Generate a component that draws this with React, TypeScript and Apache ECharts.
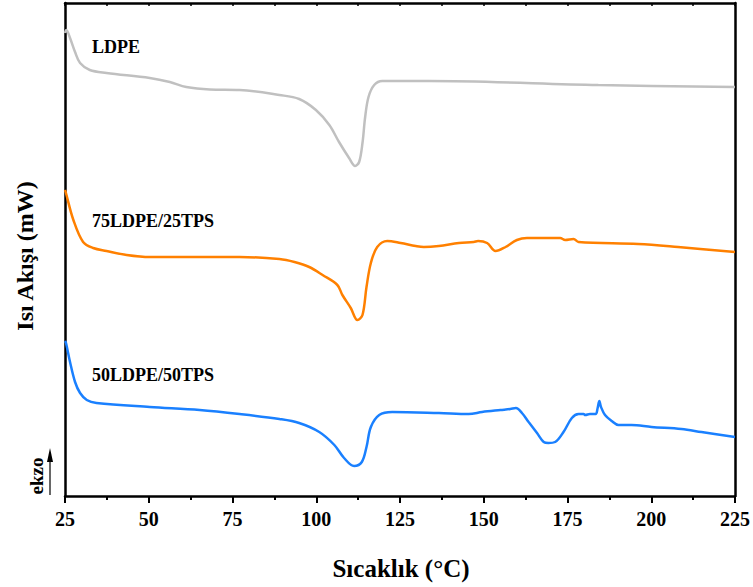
import React, { useEffect, useRef } from "react";
import * as echarts from "echarts";

// Temperature (°C) and heat flow (arbitrary mW offsets)
const ldpeT = [25.0, 25.4, 26.5, 28.0, 29.5, 32.4, 37.4, 50.3, 56.3, 61.2, 68.2, 77.1, 89.0, 94.9, 99.9, 103.9, 106.8, 109.8, 111.6, 112.8, 113.8, 114.6, 115.6, 117.3, 119.7, 133.6, 184.2, 225.0];
const ldpeY = [46.3, 46.6, 45.8, 44.4, 43.3, 42.6, 42.3, 41.8, 41.4, 40.9, 40.65, 40.6, 40.1, 39.7, 38.6, 37.1, 35.4, 33.8, 33.0, 33.4, 35.3, 37.9, 39.9, 41.1, 41.5, 41.5, 41.1, 40.9];

const b75T = [25.0, 25.2, 27.5, 30.4, 33.4, 37.4, 43.4, 50.3, 62.2, 77.1, 89.0, 93.5, 97.9, 101.9, 106.3, 107.8, 110.3, 112.3, 113.8, 115.0, 116.3, 118.2, 121.2, 125.2, 129.7, 132.1, 136.6, 142.6, 147.0, 148.3, 151.0, 153.5, 156.5, 159.9, 162.9, 172.8, 174.3, 176.8, 178.3, 196.1, 208.0, 225.0];
const b75Y = [30.6, 30.4, 27.6, 25.4, 24.8, 24.5, 24.1, 23.9, 23.9, 23.9, 23.7, 23.4, 22.9, 22.1, 21.1, 20.1, 18.8, 17.6, 18.1, 20.9, 23.3, 24.9, 25.5, 25.3, 25.0, 24.9, 25.0, 25.3, 25.4, 25.5, 25.3, 24.5, 24.9, 25.6, 25.8, 25.8, 25.6, 25.7, 25.4, 25.2, 24.9, 24.4];

const b50T = [25.0, 25.3, 26.5, 28.0, 29.5, 31.5, 34.4, 50.3, 65.2, 77.1, 89.0, 94.9, 100.9, 105.4, 108.3, 111.3, 113.6, 115.0, 116.3, 118.8, 122.7, 136.6, 145.5, 149.5, 155.0, 157.9, 159.6, 161.4, 163.4, 165.9, 167.9, 169.3, 171.3, 173.8, 176.3, 178.3, 179.8, 180.3, 181.7, 183.4, 184.0, 184.5, 185.0, 186.2, 188.2, 190.2, 194.1, 200.1, 209.0, 215.0, 225.0];
const b50Y = [15.5, 15.3, 13.4, 11.4, 10.3, 9.6, 9.3, 8.9, 8.6, 8.2, 7.7, 7.3, 6.4, 5.1, 3.8, 3.0, 3.4, 4.9, 6.9, 8.1, 8.4, 8.3, 8.2, 8.4, 8.6, 8.7, 8.8, 8.3, 7.4, 6.3, 5.4, 5.3, 5.4, 6.4, 7.8, 8.2, 8.2, 8.1, 8.2, 8.2, 8.8, 9.5, 8.9, 8.1, 7.5, 7.1, 7.1, 6.9, 6.7, 6.4, 5.9];

const seriesNames = ["LDPE", "75LDPE/25TPS", "50LDPE/50TPS"];
const xTicks = [25, 50, 75, 100, 125, 150, 175, 200, 225];

const FONT = '"Liberation Serif", "Times New Roman", serif';

const zip = (xs: number[], ys: number[]) => xs.map((x, i) => [x, ys[i]]);

export default function App() {
  const ref = useRef<HTMLDivElement>(null);
  useEffect(() => {
    document.body.style.margin = "0";
    const chart = echarts.init(ref.current!, null, { renderer: "svg" });
    const frame = { color: "#000", width: 2.5 };
    const line = (name: string, data: number[][], color: string) => ({
      name,
      type: "line",
      data,
      showSymbol: false,
      smooth: 0.35,
      lineStyle: { color, width: 2.5 },
      xAxisIndex: 0,
      yAxisIndex: 0,
    });
    chart.setOption({
      animation: false,
      grid: { left: 65, right: 16, top: 3, bottom: 91 },
      xAxis: [
        {
          type: "value",
          min: xTicks[0],
          max: xTicks[xTicks.length - 1],
          interval: 25,
          position: "bottom",
          axisLine: { show: true, onZero: false, lineStyle: frame },
          axisTick: { show: true, inside: false, length: 7, lineStyle: { width: 2, color: "#000" } },
          minorTick: { show: true, splitNumber: 2, length: 4, lineStyle: { width: 2, color: "#000" } },
          splitLine: { show: false },
          axisLabel: { margin: 13, color: "#000", fontFamily: FONT, fontWeight: "bold", fontSize: 20 },
        },
        {
          type: "value",
          min: 25,
          max: 225,
          interval: 12.5,
          position: "top",
          axisLine: { show: true, onZero: false, lineStyle: frame },
          axisTick: { show: true, inside: true, length: 3, lineStyle: { width: 1.5, color: "#000" } },
          splitLine: { show: false },
          axisLabel: { show: false },
        },
      ],
      yAxis: [
        {
          type: "value",
          min: 0,
          max: 49.3,
          position: "left",
          axisLine: { show: true, onZero: false, lineStyle: frame },
          axisTick: { show: false },
          splitLine: { show: false },
          axisLabel: { show: false },
        },
        {
          type: "value",
          min: 0,
          max: 49.3,
          position: "right",
          axisLine: { show: true, onZero: false, lineStyle: frame },
          axisTick: { show: false },
          splitLine: { show: false },
          axisLabel: { show: false },
        },
      ],
      series: [
        line(seriesNames[0], zip(ldpeT, ldpeY), "#C0C0C0"),
        line(seriesNames[1], zip(b75T, b75Y), "#FF8000"),
        line(seriesNames[2], zip(b50T, b50Y), "#1A80FF"),
      ],
      graphic: [
        { type: "text", left: 92, top: 38, style: { text: seriesNames[0], fontFamily: FONT, fontWeight: "bold", fontSize: 18, fill: "#000" } },
        { type: "text", left: 92, top: 212, style: { text: seriesNames[1], fontFamily: FONT, fontWeight: "bold", fontSize: 18, fill: "#000" } },
        { type: "text", left: 92, top: 366, style: { text: seriesNames[2], fontFamily: FONT, fontWeight: "bold", fontSize: 18, fill: "#000" } },
        {
          type: "text",
          x: 25,
          y: 256,
          rotation: Math.PI / 2,
          style: { text: "Isı Akışı (mW)", fontFamily: FONT, fontWeight: "bold", fontSize: 24, fill: "#000", align: "center", verticalAlign: "middle" },
        },
        {
          type: "text",
          x: 36,
          y: 476,
          rotation: Math.PI / 2,
          style: { text: "ekzo", fontFamily: FONT, fontWeight: "bold", fontSize: 19, fill: "#000", align: "center", verticalAlign: "middle" },
        },
        { type: "line", shape: { x1: 50, y1: 495, x2: 50, y2: 458 }, style: { stroke: "#000", lineWidth: 1.2 } },
        { type: "polygon", shape: { points: [[47, 462], [53, 462], [50, 448]] }, style: { fill: "#000" } },
        {
          type: "text",
          x: 401,
          y: 568,
          style: { text: "Sıcaklık (°C)", fontFamily: FONT, fontWeight: "bold", fontSize: 25, fill: "#000", align: "center", verticalAlign: "middle" },
        },
      ],
    });
    return () => chart.dispose();
  }, []);
  return <div ref={ref} style={{ width: 753, height: 587 }} />;
}
